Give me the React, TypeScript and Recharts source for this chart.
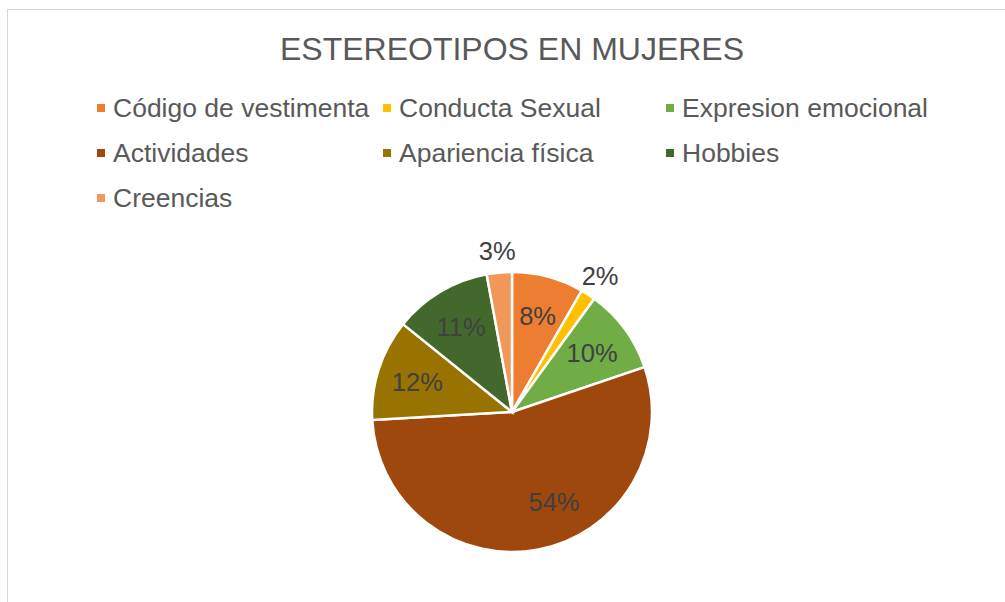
import React from "react";
import { PieChart, Pie, Cell, Legend } from "recharts";

const categories = [
  "Código de vestimenta",
  "Conducta Sexual",
  "Expresion emocional",
  "Actividades",
  "Apariencia física",
  "Hobbies",
  "Creencias",
];
const values = [8.3, 1.7, 9.8, 54.3, 11.7, 11.3, 2.9];
const colors = ["#ED7D31", "#FFC000", "#70AD47", "#9E480E", "#997300", "#43682B", "#F1975A"];
const title = "ESTEREOTIPOS EN MUJERES";

const data = categories.map((name, i) => ({ name, value: values[i] }));

const FONT = '"Liberation Sans", Arial, sans-serif';
const RAD = Math.PI / 180;

const renderLabel = (props: any) => {
  const { cx, cy, midAngle, outerRadius, percent } = props;
  const small = percent < 0.05;
  const ang = percent > 0.5 ? midAngle + 14 : midAngle;
  const r = small ? outerRadius + 22 : outerRadius * 0.71;
  const x = cx + r * Math.cos(-ang * RAD);
  const y = cy + r * Math.sin(-ang * RAD);
  return (
    <text
      x={x}
      y={y}
      textAnchor="middle"
      dominantBaseline="central"
      fill="#404040"
      fontSize={25.5}
      fontFamily={FONT}
    >
      {`${Math.round(percent * 100)}%`}
    </text>
  );
};

const colX = [89, 375, 658];

const renderLegend = (props: any) => {
  const payload = [...(props.payload || [])].sort(
    (a: any, b: any) => categories.indexOf(a.value) - categories.indexOf(b.value)
  );
  return (
    <div style={{ position: "relative", height: 0, width: 997 }}>
      {payload.map((entry: any, i: number) => {
        const col = i % 3;
        const row = Math.floor(i / 3);
        const top = 98 + row * 45 - 15;
        return (
          <div
            key={i}
            style={{
              position: "absolute",
              left: colX[col],
              top,
              height: 30,
              display: "flex",
              alignItems: "center",
              whiteSpace: "nowrap",
              fontFamily: FONT,
              fontSize: 26.5,
              color: "#595959",
            }}
          >
            <span
              style={{
                display: "inline-block",
                width: 8,
                height: 8,
                background: entry.color,
                marginRight: 8,
              }}
            />
            <span>{entry.value}</span>
          </div>
        );
      })}
    </div>
  );
};

export default function App() {
  return (
    <div
      style={{
        position: "absolute",
        left: 7,
        top: 9,
        width: 998,
        height: 593,
        boxSizing: "border-box",
        borderLeft: "1px solid #D9D9D9",
        borderTop: "1px solid #D9D9D9",
        background: "#fff",
        overflow: "hidden",
      }}
    >
      <div
        style={{
          position: "absolute",
          left: 104,
          top: 21,
          width: 800,
          textAlign: "center",
          fontFamily: FONT,
          fontSize: 32,
          lineHeight: "36px",
          color: "#595959",
          zIndex: 2,
        }}
      >
        {title}
      </div>
      <PieChart width={997} height={592} margin={{ top: 0, right: 0, bottom: 0, left: 0 }}>
        <Legend
          verticalAlign="top"
          align="left"
          content={renderLegend}
          wrapperStyle={{ left: 0, top: 0, width: 997, height: 0 }}
        />
        <Pie
          data={data}
          dataKey="value"
          nameKey="name"
          cx={504}
          cy={402}
          outerRadius={140}
          startAngle={90}
          endAngle={-270}
          stroke="#fff"
          strokeWidth={2.5}
          label={renderLabel}
          labelLine={false}
          isAnimationActive={false}
        >
          {data.map((d, i) => (
            <Cell key={d.name} fill={colors[i]} />
          ))}
        </Pie>
      </PieChart>
    </div>
  );
}
